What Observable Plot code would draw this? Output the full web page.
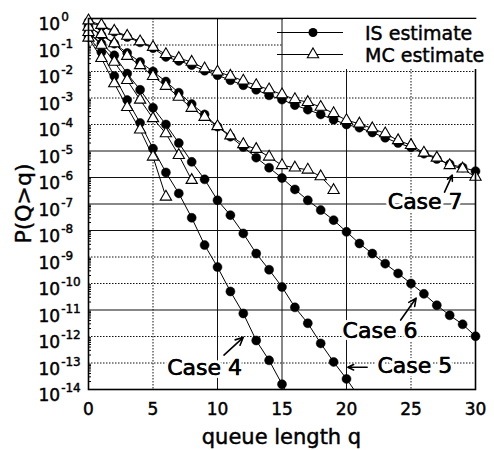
<!DOCTYPE html>
<html><head><meta charset="utf-8">
<script src="https://cdn.jsdelivr.net/npm/d3@7"></script>
<script src="https://cdn.jsdelivr.net/npm/@observablehq/plot@0.6"></script>
<style>
body{margin:0;background:#fff;}
#chart{width:494px;height:450px;}
</style></head><body><div id="chart"></div>
<script>
// log10 P(Q>q) for q = 0,1,2,...
const case4_IS = [-0.7, -1.27, -2.17, -3.08, -3.94, -4.91, -5.81, -6.6, -7.52, -8.55, -9.38, -10.3, -11.13, -12.15, -12.9, -13.8, -14.7];
const case4_MC = [-0.73, -1.5, -2.45, -3.35, -4.2, -5.22, -6.73];
const case5_IS = [-0.52, -0.95, -1.39, -2.08, -2.69, -3.37, -4.0, -4.7, -5.41, -6.07, -6.86, -7.42, -8.11, -8.87, -9.48, -10.13, -10.9, -11.5, -12.26, -12.96, -13.6, -14.3];
const case5_MC = [-0.52, -1.0, -1.64, -2.33, -3.07, -3.77, -4.34, -5.16, -6.1];
const case6_IS = [-0.3, -0.63, -0.95, -1.3, -1.64, -2.0, -2.38, -2.8, -3.23, -3.62, -4.08, -4.46, -4.85, -5.25, -5.63, -6.02, -6.45, -6.86, -7.23, -7.61, -8.05, -8.49, -8.87, -9.25, -9.62, -10.0, -10.39, -10.82, -11.2, -11.54, -11.99];
const case6_MC = [-0.32, -0.6, -0.94, -1.42, -1.77, -2.18, -2.55, -2.96, -3.38, -3.72, -4.07, -4.42, -4.75, -4.93, -5.22, -5.54, -5.63, -5.71, -5.96, -6.48];
const case7_IS = [-0.12, -0.3, -0.5, -0.7, -0.9, -1.12, -1.45, -1.6, -1.76, -1.97, -2.14, -2.33, -2.52, -2.69, -2.9, -3.06, -3.27, -3.44, -3.62, -3.82, -4.0, -4.12, -4.3, -4.5, -4.7, -4.86, -5.1, -5.3, -5.5, -5.62, -5.76];
const case7_MC = [-0.08, -0.25, -0.47, -0.66, -0.87, -1.08, -1.35, -1.5, -1.64, -1.89, -2.01, -2.17, -2.35, -2.52, -2.68, -2.87, -3.05, -3.16, -3.34, -3.58, -3.84, -3.97, -4.15, -4.34, -4.6, -4.78, -5.07, -5.26, -5.54, -5.67, -5.98];

const xTicks = [0, 5, 10, 15, 20, 25, 30];
const yExponents = [0, -1, -2, -3, -4, -5, -6, -7, -8, -9, -10, -11, -12, -13, -14];
const xGridDotted = [5, 25];
const xGridSolid = [10, 15, 20];
const yGridDotted = [-1, -2, -3, -4, -9, -10, -12, -13];
const yGridSolid = [-5, -6, -7, -8, -11];

const legendLabels = ["IS estimate", "MC estimate"];
const xTitle = "queue length q";
const yTitle = "P(Q>q)";

// case labels (q, log10 P) and arrows
const caseLabels = [
  {text: "Case 7", q: 26.1, lp: -6.93},
  {text: "Case 6", q: 22.6, lp: -11.8},
  {text: "Case 5", q: 25.3, lp: -13.1},
  {text: "Case 4", q: 9.0, lp: -13.2}
];
const caseArrows = [
  {q1: 27.6, lp1: -6.55, q2: 28.2, lp2: -5.91},
  {q1: 24.2, lp1: -11.38, q2: 25.4, lp2: -10.55},
  {q1: 21.6, lp1: -13.16, q2: 20.1, lp2: -13.16},
  {q1: 10.5, lp1: -12.7, q2: 12.0, lp2: -12.03}
];

const series = [
  {key: "c4IS", method: "IS", v: case4_IS}, {key: "c4MC", method: "MC", v: case4_MC},
  {key: "c5IS", method: "IS", v: case5_IS}, {key: "c5MC", method: "MC", v: case5_MC},
  {key: "c6IS", method: "IS", v: case6_IS}, {key: "c6MC", method: "MC", v: case6_MC},
  {key: "c7IS", method: "IS", v: case7_IS}, {key: "c7MC", method: "MC", v: case7_MC}
];
const rows = series.flatMap(s => s.v.map((lp, i) => ({q: i, p: Math.pow(10, lp), key: s.key, method: s.method})));
const inDomain = d => d.p >= 1e-14;
const minorTicks = [];
for (const e of yExponents.slice(1)) for (let m = 2; m <= 9; m++) minorTicks.push(m * Math.pow(10, e));

const P = v => Math.pow(10, v);
const plot = Plot.plot({
  width: 494, height: 450,
  marginLeft: 88, marginRight: 19, marginTop: 18, marginBottom: 61,
  style: {fontFamily: "DejaVu Sans, sans-serif", fontSize: "17px", color: "black", background: "white"},
  x: {domain: [0, 30]},
  y: {type: "log", domain: [1e-14, 1]},
  marks: [
    Plot.ruleX(xGridDotted, {x: d => d, stroke: "#111", strokeWidth: 1, strokeDasharray: "1.5,1.5"}),
    Plot.ruleX(xGridSolid, {x: d => d, stroke: "#111", strokeWidth: 1}),
    Plot.ruleY(yGridDotted, {y: d => P(d), stroke: "#111", strokeWidth: 1, strokeDasharray: "1.5,1.5"}),
    Plot.ruleY(yGridSolid, {y: d => P(d), stroke: "#111", strokeWidth: 1}),
    Plot.axisX({ticks: xTicks, tickSize: 0, tickPadding: 13, fontSize: 17, label: null}),
    Plot.axisY({ticks: yExponents.map(P), tickSize: 0, tickPadding: 6, tickFormat: d => String(Math.round(Math.log10(d))), label: null}),
    Plot.axisY({ticks: minorTicks, tickSize: -3, tickFormat: () => "", label: null, strokeWidth: 1}),
    Plot.line(rows, {x: "q", y: "p", z: "key", stroke: "black", strokeWidth: 1, clip: true}),
    Plot.dot(rows.filter(d => d.method === "IS" && inDomain(d)), {x: "q", y: "p", r: 4.5, fill: "black", stroke: "black", strokeWidth: 0.5}),
    Plot.dot(rows.filter(d => d.method === "MC" && inDomain(d)), {x: "q", y: "p", symbol: "triangle", r: 4.2, fill: "white", stroke: "black", strokeWidth: 1.1}),
    Plot.arrow(caseArrows, {x1: "q1", y1: d => P(d.lp1), x2: "q2", y2: d => P(d.lp2), stroke: "black", strokeWidth: 1.6, headLength: 8, headAngle: 50}),
    Plot.text(caseLabels, {x: "q", y: d => P(d.lp), text: "text", fontSize: 22, fill: "black", stroke: "white", strokeWidth: 6}),
    Plot.text(caseLabels, {x: "q", y: d => P(d.lp), text: "text", fontSize: 22, fill: "black", stroke: "black", strokeWidth: 0.5}),
    Plot.frame({stroke: "black", strokeWidth: 1.6})
  ]
});
document.getElementById("chart").appendChild(plot);

const svg = d3.select(plot);
const yScale = plot.scale("y");
// remove empty minor tick labels
svg.selectAll("text").filter(function() { return this.textContent === ""; }).remove();
// superscript tick labels for the decades
svg.selectAll('g[aria-label="y-axis tick label"] text').each(function() {
  const t = d3.select(this);
  const exp = t.text();
  const v = Number(exp);
  t.text(null).attr("text-anchor", "start").attr("transform", `translate(44,${yScale.apply(P(v))})`);
  t.append("tspan").attr("dy", "0.36em").attr("font-size", 17).text("10");
  t.append("tspan").attr("dy", "-0.75em").attr("dx", "1").attr("font-size", 12).text(exp);
});
svg.selectAll('g[aria-label="y-axis tick label"], g[aria-label="x-axis tick label"]')
  .attr("stroke", "black").attr("stroke-width", 0.45);

// axis titles
svg.append("text").attr("x", 281.5).attr("y", 444).attr("text-anchor", "middle")
  .attr("font-size", 21).attr("font-family", "DejaVu Sans, sans-serif").attr("fill", "black")
  .attr("stroke", "black").attr("stroke-width", 0.45).text(xTitle);
svg.append("text").attr("transform", "translate(31,203.5) rotate(-90)").attr("text-anchor", "middle")
  .attr("font-size", 22).attr("font-family", "DejaVu Sans, sans-serif").attr("fill", "black")
  .attr("stroke", "black").attr("stroke-width", 0.45).text(yTitle);

// legend
const lg = svg.append("g").attr("font-family", "DejaVu Sans, sans-serif").attr("font-size", 19).attr("text-anchor", "start");
lg.append("rect").attr("x", 283).attr("y", 19).attr("width", 201).attr("height", 50).attr("fill", "white");
lg.append("line").attr("x1", 277).attr("x2", 343).attr("y1", 32.5).attr("y2", 32.5).attr("stroke", "black");
lg.append("circle").attr("cx", 313).attr("cy", 32.5).attr("r", 4.5).attr("fill", "black");
lg.append("line").attr("x1", 277).attr("x2", 343).attr("y1", 54.5).attr("y2", 54.5).attr("stroke", "black");
lg.append("path").attr("transform", "translate(313,54.5)").attr("d", d3.symbol(d3.symbolTriangle, Math.PI * 4.2 * 4.2)())
  .attr("fill", "white").attr("stroke", "black").attr("stroke-width", 1.1);
lg.append("text").attr("x", 365).attr("y", 40).attr("fill", "black").attr("stroke", "black").attr("stroke-width", 0.45).attr("text-anchor", "start").text(legendLabels[0]);
lg.append("text").attr("x", 365).attr("y", 62).attr("fill", "black").attr("stroke", "black").attr("stroke-width", 0.45).attr("text-anchor", "start").text(legendLabels[1]);
</script></body></html>
